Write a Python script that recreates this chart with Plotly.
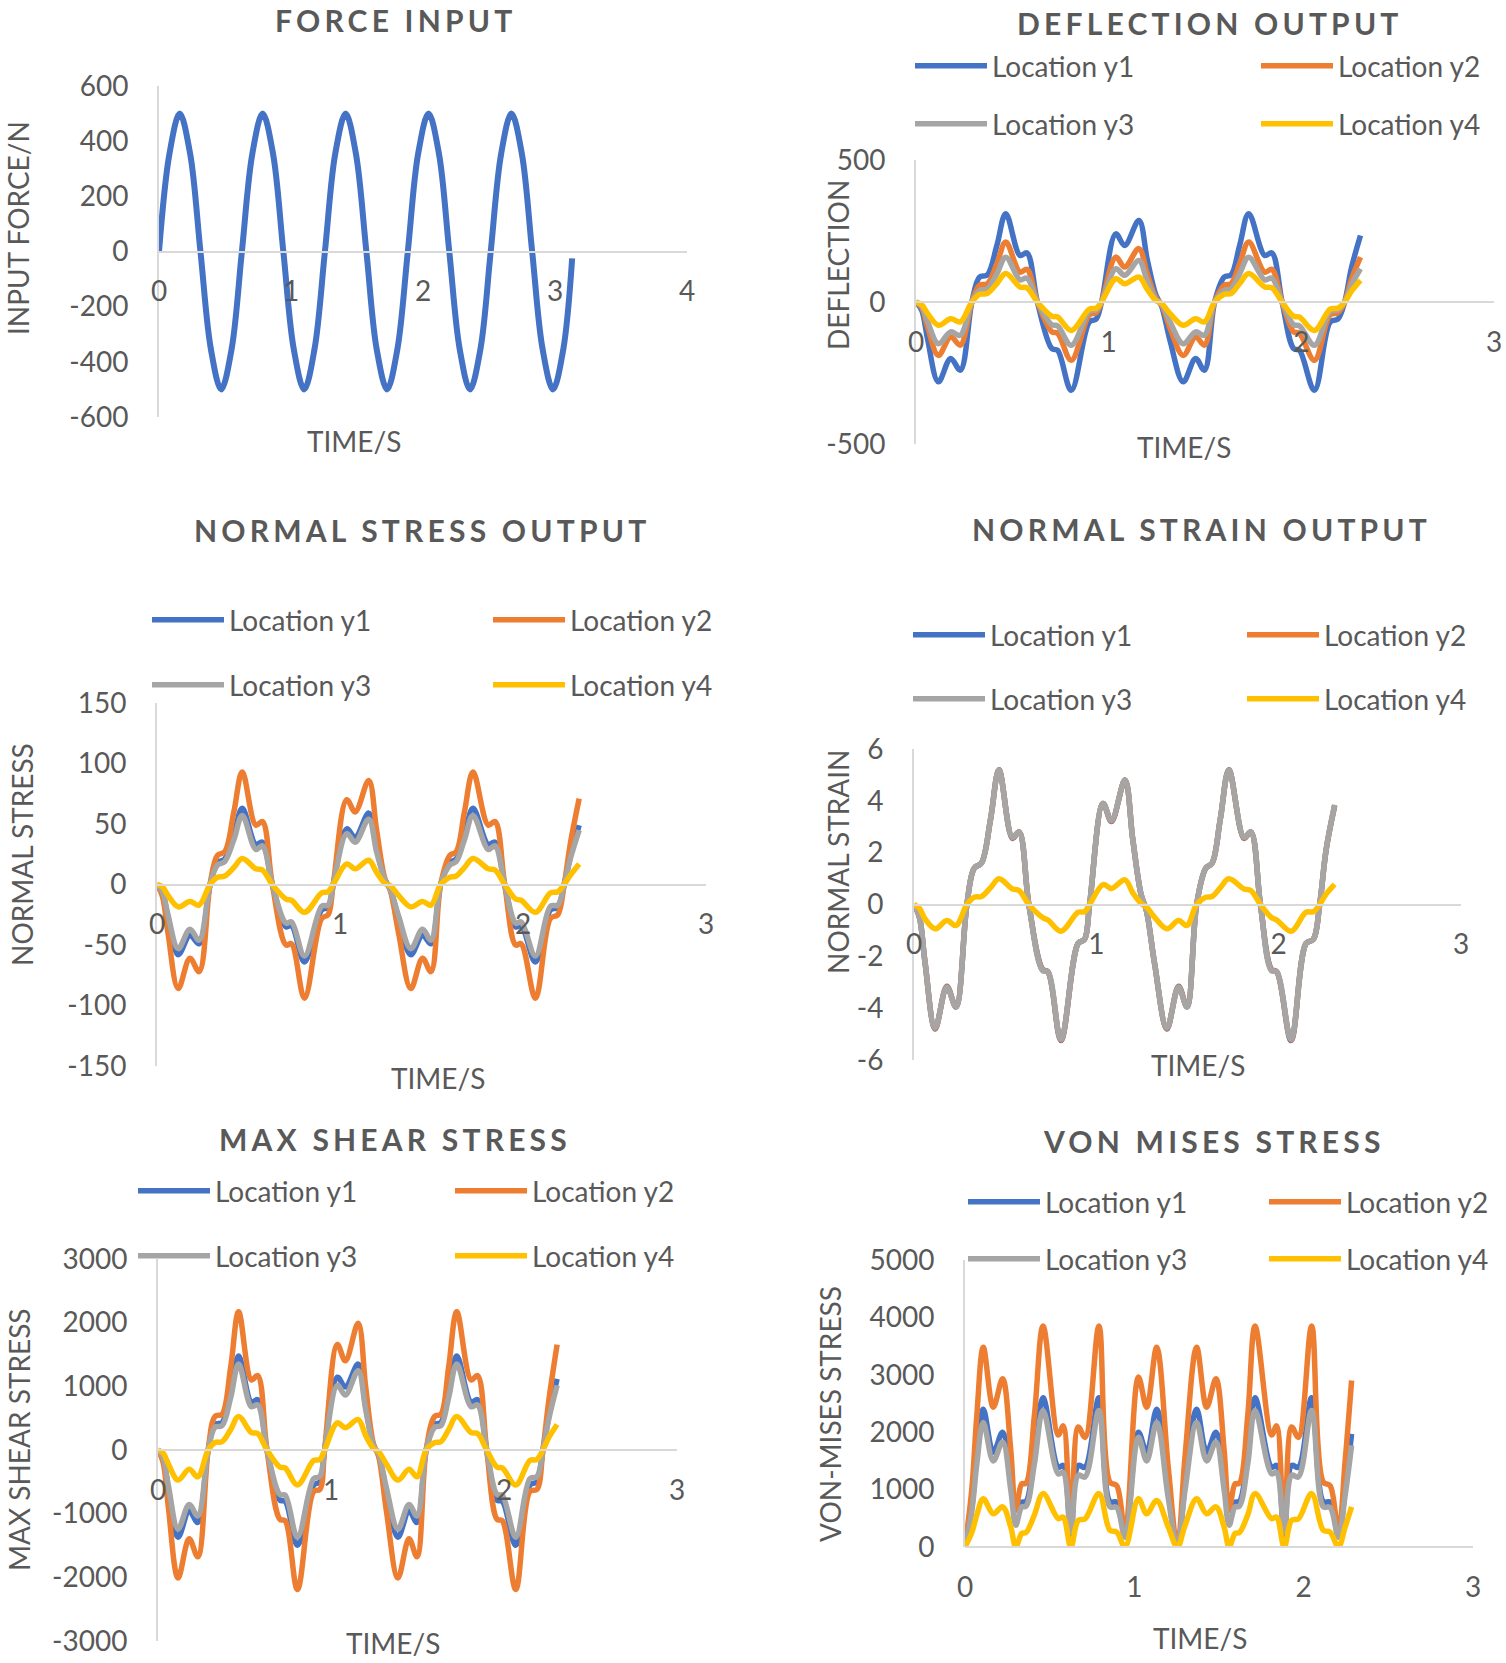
import plotly.graph_objects as go

# ---------------- DATA ----------------
# Force input
t_force = [0.000, 0.079, 0.157, 0.236, 0.314, 0.393, 0.471, 0.550, 0.628, 0.707,
           0.785, 0.864, 0.942, 1.021, 1.100, 1.178, 1.257, 1.335, 1.414, 1.492,
           1.571, 1.649, 1.728, 1.806, 1.885, 1.963, 2.042, 2.121, 2.199, 2.278,
           2.356, 2.435, 2.513, 2.592, 2.670, 2.749, 2.827, 2.906, 2.985, 3.063, 3.130]
force = [0, 354, 500, 354, 0, -354, -500, -354, 0, 354,
         500, 354, 0, -354, -500, -354, 0, 354, 500, 354,
         0, -354, -500, -354, 0, 354, 500, 354, 0, -354,
         -500, -354, 0, 354, 500, 354, 0, -354, -500, -354, -25]

# Shared time base for deflection / stress / strain / shear
t_resp = [0.000, 0.030, 0.060, 0.116, 0.180, 0.230, 0.290, 0.330, 0.370, 0.420,
          0.466, 0.540, 0.576, 0.630, 0.705, 0.735, 0.806, 0.900, 0.935, 0.963,
          1.037, 1.083, 1.157, 1.200, 1.245, 1.275, 1.320, 1.387, 1.451, 1.497,
          1.550, 1.600, 1.635, 1.680, 1.727, 1.810, 1.847, 1.900, 1.960, 1.990,
          2.068, 2.150, 2.190, 2.225, 2.260, 2.307]

defl_y1 = [0, -30, -130, -281, -199, -240, 0, 88, 95, 200,
           311, 164, 173, 0, -164, -170, -311, -70, -60, 0,
           240, 199, 287, 150, 25, -15, -140, -281, -199, -240,
           0, 88, 95, 200, 311, 164, 173, 0, -164, -170,
           -311, -70, -60, 0, 120, 234]
defl_y2 = [0, -20, -88, -188, -123, -152, 0, 59, 64, 135,
           211, 105, 115, 0, -105, -110, -205, -45, -38, 0,
           158, 123, 188, 100, 15, -10, -95, -188, -123, -152,
           0, 59, 64, 135, 211, 105, 115, 0, -105, -110,
           -205, -45, -38, 0, 80, 158]
defl_y3 = [0, -15, -68, -147, -105, -117, 0, 41, 46, 100,
           158, 78, 84, 0, -80, -84, -152, -33, -28, 0,
           117, 94, 146, 75, 10, -8, -72, -147, -105, -117,
           0, 41, 46, 100, 158, 78, 84, 0, -80, -84,
           -152, -33, -28, 0, 60, 117]
defl_y4 = [0, -10, -40, -82, -59, -70, 0, 27, 30, 65,
           100, 53, 50, 0, -50, -53, -100, -25, -22, 0,
           82, 64, 88, 45, 5, -5, -42, -82, -59, -70,
           0, 27, 30, 65, 100, 53, 50, 0, -50, -53,
           -100, -25, -22, 0, 38, 76]

stress_y1 = [0, -7, -27, -58, -42, -49, 0, 18, 21, 41,
             63, 33, 35, 0, -35, -34, -64, -21, -19, 0,
             46, 39, 59, 30, 4, -4, -28, -58, -42, -49,
             0, 18, 21, 41, 63, 33, 35, 0, -35, -34,
             -64, -21, -19, 0, 24, 49]
stress_y2 = [0, -10, -40, -86, -61, -72, 0, 24, 27, 60,
             93, 49, 52, 0, -50, -49, -94, -28, -25, 0,
             70, 60, 86, 45, 5, -5, -40, -86, -61, -72,
             0, 24, 27, 60, 93, 49, 52, 0, -50, -49,
             -94, -28, -25, 0, 35, 71]
stress_y3 = [0, -6, -25, -53, -37, -46, 0, 16, 19, 37,
             57, 29, 32, 0, -32, -31, -59, -18, -17, 0,
             42, 35, 54, 27, 4, -4, -26, -53, -37, -46,
             0, 16, 19, 37, 57, 29, 32, 0, -32, -31,
             -59, -18, -17, 0, 22, 45]
stress_y4 = [0, -2, -9, -18.5, -14, -17, 0, 6, 7, 14,
             21.5, 13, 12, 0, -12, -13, -23, -7, -6, 0,
             17, 13, 20, 10, 1, -1, -9, -18.5, -14, -17,
             0, 6, 7, 14, 21.5, 13, 12, 0, -12, -13,
             -23, -7, -6, 0, 8, 17]

strain_y1 = [0, -0.5, -2.2, -4.8, -3.15, -3.95, 0, 1.4, 1.6, 3.3,
             5.2, 2.55, 2.8, 0, -2.5, -2.6, -5.25, -1.5, -1.35, 0,
             3.9, 3.2, 4.8, 2.5, 0.4, -0.25, -2.3, -4.8, -3.15, -3.95,
             0, 1.4, 1.6, 3.3, 5.2, 2.55, 2.8, 0, -2.5, -2.6,
             -5.25, -1.5, -1.35, 0, 2.1, 3.8]
strain_y2 = [0, -0.5, -2.2, -4.78, -3.17, -3.95, 0, 1.4, 1.6, 3.3,
             5.19, 2.57, 2.8, 0, -2.52, -2.6, -5.23, -1.5, -1.35, 0,
             3.9, 3.22, 4.8, 2.5, 0.4, -0.25, -2.3, -4.78, -3.17, -3.95,
             0, 1.4, 1.6, 3.3, 5.19, 2.57, 2.8, 0, -2.52, -2.6,
             -5.23, -1.5, -1.35, 0, 2.1, 3.82]
strain_y3 = [0, -0.5, -2.2, -4.75, -3.2, -3.95, 0, 1.4, 1.6, 3.3,
             5.18, 2.6, 2.8, 0, -2.55, -2.6, -5.2, -1.5, -1.35, 0,
             3.9, 3.25, 4.8, 2.5, 0.4, -0.25, -2.3, -4.75, -3.2, -3.95,
             0, 1.4, 1.6, 3.3, 5.18, 2.6, 2.8, 0, -2.55, -2.6,
             -5.2, -1.5, -1.35, 0, 2.1, 3.85]
strain_y4 = [0, -0.15, -0.55, -0.94, -0.62, -0.81, 0, 0.28, 0.31, 0.65,
             0.99, 0.6, 0.54, 0, -0.5, -0.6, -1.03, -0.3, -0.28, 0,
             0.77, 0.62, 0.95, 0.45, 0.05, -0.1, -0.5, -0.94, -0.62, -0.81,
             0, 0.28, 0.31, 0.65, 0.99, 0.6, 0.54, 0, -0.5, -0.6,
             -1.03, -0.3, -0.28, 0, 0.4, 0.78]

shear_y1 = [0, -140, -620, -1369, -959, -1138, 0, 400, 430, 900,
            1477, 750, 790, 0, -790, -805, -1497, -550, -500, 0,
            1144, 990, 1349, 700, 80, -70, -650, -1369, -959, -1138,
            0, 400, 430, 900, 1477, 750, 790, 0, -790, -805,
            -1497, -550, -500, 0, 550, 1118]
shear_y2 = [0, -200, -900, -2010, -1395, -1677, 0, 530, 560, 1300,
            2170, 1100, 1170, 0, -1090, -1110, -2190, -650, -620, 0,
            1656, 1400, 1990, 1000, 100, -100, -950, -2010, -1395, -1677,
            0, 530, 560, 1300, 2170, 1100, 1170, 0, -1090, -1110,
            -2190, -650, -620, 0, 800, 1656]
shear_y3 = [0, -125, -560, -1241, -856, -1036, 0, 360, 380, 820,
            1349, 680, 710, 0, -700, -710, -1369, -450, -420, 0,
            1015, 862, 1246, 640, 70, -60, -590, -1241, -856, -1036,
            0, 360, 380, 820, 1349, 680, 710, 0, -700, -710,
            -1369, -450, -420, 0, 500, 1015]
shear_y4 = [0, -50, -220, -472, -303, -421, 0, 118, 130, 320,
            528, 272, 260, 0, -270, -282, -549, -164, -150, 0,
            426, 349, 477, 230, 25, -25, -220, -472, -303, -421,
            0, 118, 130, 320, 528, 272, 260, 0, -270, -282,
            -549, -164, -150, 0, 200, 400]

# Von Mises time base
t_vm = [0.000, 0.040, 0.070, 0.108, 0.167, 0.222, 0.270, 0.300, 0.335, 0.360,
        0.410, 0.461, 0.551, 0.580, 0.625, 0.669, 0.709, 0.791, 0.856, 0.896,
        0.945, 1.024, 1.073, 1.132, 1.200, 1.254, 1.300, 1.368, 1.427, 1.482,
        1.530, 1.560, 1.595, 1.620, 1.670, 1.713, 1.811, 1.840, 1.885, 1.929,
        1.969, 2.047, 2.116, 2.156, 2.205, 2.245, 2.283]
vm_y1 = [0, 680, 1600, 2400, 1650, 2000, 1150, 650, 780, 790,
         1600, 2600, 1390, 1420, 220, 1420, 1390, 2600, 790, 780,
         200, 2000, 1650, 2400, 950, 0, 1100, 2400, 1650, 2000,
         1150, 650, 780, 790, 1600, 2600, 1390, 1420, 220, 1420,
         1390, 2600, 790, 780, 200, 1000, 1970]
vm_y2 = [0, 1000, 2300, 3480, 2435, 2930, 1700, 640, 1100, 1110,
         2300, 3850, 1950, 2110, 300, 2090, 1910, 3850, 1130, 1070,
         250, 2960, 2435, 3480, 1400, 0, 1600, 3480, 2435, 2930,
         1700, 640, 1100, 1110, 2300, 3850, 1950, 2110, 300, 2090,
         1910, 3850, 1130, 1070, 250, 1500, 2900]
vm_y3 = [0, 620, 1450, 2170, 1500, 1830, 1000, 380, 700, 710,
         1450, 2380, 1275, 1300, 260, 1250, 1220, 2380, 700, 690,
         170, 1910, 1500, 2170, 860, 0, 1000, 2170, 1500, 1830,
         1000, 380, 700, 710, 1450, 2380, 1275, 1300, 260, 1250,
         1220, 2380, 700, 690, 170, 900, 1770]
vm_y4 = [0, 250, 560, 840, 580, 700, 350, 0, 235, 250,
         560, 930, 495, 520, 0, 465, 490, 930, 290, 260,
         0, 840, 580, 810, 350, 0, 380, 840, 580, 700,
         350, 0, 235, 250, 560, 930, 495, 520, 0, 465,
         490, 930, 290, 260, 0, 350, 700]

series_names = ["Location y1", "Location y2", "Location y3", "Location y4"]

# tick values
x_ticks_force = [0, 1, 2, 3, 4]
x_ticks_resp = [0, 1, 2, 3]
y_ticks_force = [-600, -400, -200, 0, 200, 400, 600]
y_ticks_defl = [-500, 0, 500]
y_ticks_stress = [-150, -100, -50, 0, 50, 100, 150]
y_ticks_strain = [-6, -4, -2, 0, 2, 4, 6]
y_ticks_shear = [-3000, -2000, -1000, 0, 1000, 2000, 3000]
y_ticks_vm = [0, 1000, 2000, 3000, 4000, 5000]

# ---------------- STYLE / LAYOUT ----------------
W, H = 1506, 1663
def fx(p):
    return p / W
def fy(p):
    return 1 - p / H

BLUE, ORANGE, GRAY, YELLOW = "#4472C4", "#ED7D31", "#A5A5A5", "#FFC000"
COLORS = [BLUE, ORANGE, GRAY, YELLOW]
TXT, AXC = "#595959", "#D9D9D9"
FONT = "Lato, 'Liberation Sans', Arial, sans-serif"
FS = 28

panels = [
    dict(n=1, xd=(159, 687), yd=(86, 417), xt_vals=x_ticks_force, yt_vals=y_ticks_force,
         title="FORCE INPUT", tpos=(395, 20), xt=(354, 441), yt=(18, 228), ytitle="INPUT FORCE/N"),
    dict(n=2, xd=(916, 1494), yd=(160, 444), xt_vals=x_ticks_resp, yt_vals=y_ticks_defl,
         title="DEFLECTION OUTPUT", tpos=(1210, 23), xt=(1184, 447), yt=(838, 265), ytitle="DEFLECTION"),
    dict(n=3, xd=(157, 706), yd=(703, 1066), xt_vals=x_ticks_resp, yt_vals=y_ticks_stress,
         title="NORMAL STRESS OUTPUT", tpos=(422, 530), xt=(438, 1078), yt=(22, 855), ytitle="NORMAL STRESS"),
    dict(n=4, xd=(914, 1461), yd=(749, 1060), xt_vals=x_ticks_resp, yt_vals=y_ticks_strain,
         title="NORMAL STRAIN OUTPUT", tpos=(1201, 529), xt=(1198, 1065), yt=(838, 862), ytitle="NORMAL STRAIN"),
    dict(n=5, xd=(158, 677), yd=(1259, 1641), xt_vals=x_ticks_resp, yt_vals=y_ticks_shear,
         title="MAX SHEAR STRESS", tpos=(395, 1139), xt=(393, 1643), yt=(19, 1440), ytitle="MAX SHEAR STRESS"),
    dict(n=6, xd=(965, 1473), yd=(1260, 1547), xt_vals=x_ticks_resp, yt_vals=y_ticks_vm,
         title="VON MISES STRESS", tpos=(1214, 1141), xt=(1200, 1638), yt=(830, 1414), ytitle="VON-MISES STRESS"),
]

legend_pos = {
    2: dict(cols=(992, 1338), rows=(66, 124)),
    3: dict(cols=(229, 570), rows=(620, 685)),
    4: dict(cols=(990, 1324), rows=(635, 699)),
    5: dict(cols=(215, 532), rows=(1191, 1256)),
    6: dict(cols=(1045, 1346), rows=(1202, 1259)),
}

panel_data = {
    2: (t_resp, [defl_y1, defl_y2, defl_y3, defl_y4]),
    3: (t_resp, [stress_y1, stress_y2, stress_y3, stress_y4]),
    4: (t_resp, [strain_y1, strain_y2, strain_y3, strain_y4]),
    5: (t_resp, [shear_y1, shear_y2, shear_y3, shear_y4]),
    6: (t_vm, [vm_y1, vm_y2, vm_y3, vm_y4]),
}

fig = go.Figure()
layout = {}
annotations = []
tickfont = dict(family=FONT, size=FS, color=TXT)

for p in panels:
    n = p["n"]
    sfx = "" if n == 1 else str(n)
    xv, yv = p["xt_vals"], p["yt_vals"]
    ymin, ymax = yv[0], yv[-1]
    ytop, ybot = p["yd"]
    y0px = ytop + (ymax - 0) / (ymax - ymin) * (ybot - ytop)
    layout["xaxis" + sfx] = dict(
        domain=[fx(p["xd"][0]), fx(p["xd"][1])], range=[xv[0], xv[-1]],
        tickmode="array", tickvals=xv, ticktext=[str(v) for v in xv],
        anchor="free", position=fy(y0px), showline=True, linecolor=AXC, linewidth=2,
        showgrid=False, zeroline=False, ticks="outside", ticklen=15,
        tickcolor="rgba(0,0,0,0)", tickfont=tickfont, fixedrange=True,
        ticklabeloverflow="allow")
    layout["yaxis" + sfx] = dict(
        domain=[fy(ybot), fy(ytop)], range=[ymin, ymax],
        tickmode="array", tickvals=yv, ticktext=[str(v) for v in yv],
        anchor="x" + sfx, showline=True, linecolor=AXC, linewidth=2,
        showgrid=False, zeroline=False, ticks="outside", ticklen=23,
        tickcolor="rgba(0,0,0,0)", tickfont=tickfont, fixedrange=True,
        ticklabeloverflow="allow")
    annotations.append(dict(
        text='<span style="letter-spacing:4.2px">' + p["title"] + "</span>",
        x=fx(p["tpos"][0]), y=fy(p["tpos"][1]), xref="paper", yref="paper",
        xanchor="center", yanchor="middle", showarrow=False,
        font=dict(family=FONT, size=30, color=TXT, weight="bold")))
    annotations.append(dict(
        text="TIME/S", x=fx(p["xt"][0]), y=fy(p["xt"][1]), xref="paper", yref="paper",
        xanchor="center", yanchor="middle", showarrow=False, font=tickfont))
    annotations.append(dict(
        text=p["ytitle"], x=fx(p["yt"][0]), y=fy(p["yt"][1]), xref="paper", yref="paper",
        xanchor="center", yanchor="middle", showarrow=False, textangle=-90, font=tickfont))

fig.add_trace(go.Scatter(x=t_force, y=force, mode="lines", name="Force",
                         line=dict(color=BLUE, width=6, shape="spline", smoothing=1),
                         xaxis="x", yaxis="y", showlegend=False))

leg_idx = 0
for n in [2, 3, 4, 5, 6]:
    tt, ys = panel_data[n]
    lp = legend_pos[n]
    for j, (vals, col, name) in enumerate(zip(ys, COLORS, series_names)):
        lname = "legend" if leg_idx == 0 else "legend%d" % (leg_idx + 1)
        leg_idx += 1
        text_x = lp["cols"][j % 2]
        row_y = lp["rows"][j // 2]
        layout[lname] = dict(
            x=fx(text_x - 82), xanchor="left", y=fy(row_y), yanchor="middle",
            orientation="v", bgcolor="rgba(0,0,0,0)", borderwidth=0,
            font=dict(family=FONT, size=FS, color=TXT), itemwidth=72,
            itemclick=False, itemdoubleclick=False)
        fig.add_trace(go.Scatter(
            x=tt, y=vals, mode="lines", name=name,
            line=dict(color=col, width=5.5, shape="spline", smoothing=1),
            xaxis="x%d" % n, yaxis="y%d" % n, legend=lname, showlegend=True))

layout.update(dict(
    width=W, height=H, margin=dict(l=0, r=0, t=0, b=0, autoexpand=False),
    paper_bgcolor="white", plot_bgcolor="white",
    annotations=annotations, showlegend=True,
    font=dict(family=FONT, color=TXT),
))
fig.update_layout(**layout)
fig.write_html("out.html")
